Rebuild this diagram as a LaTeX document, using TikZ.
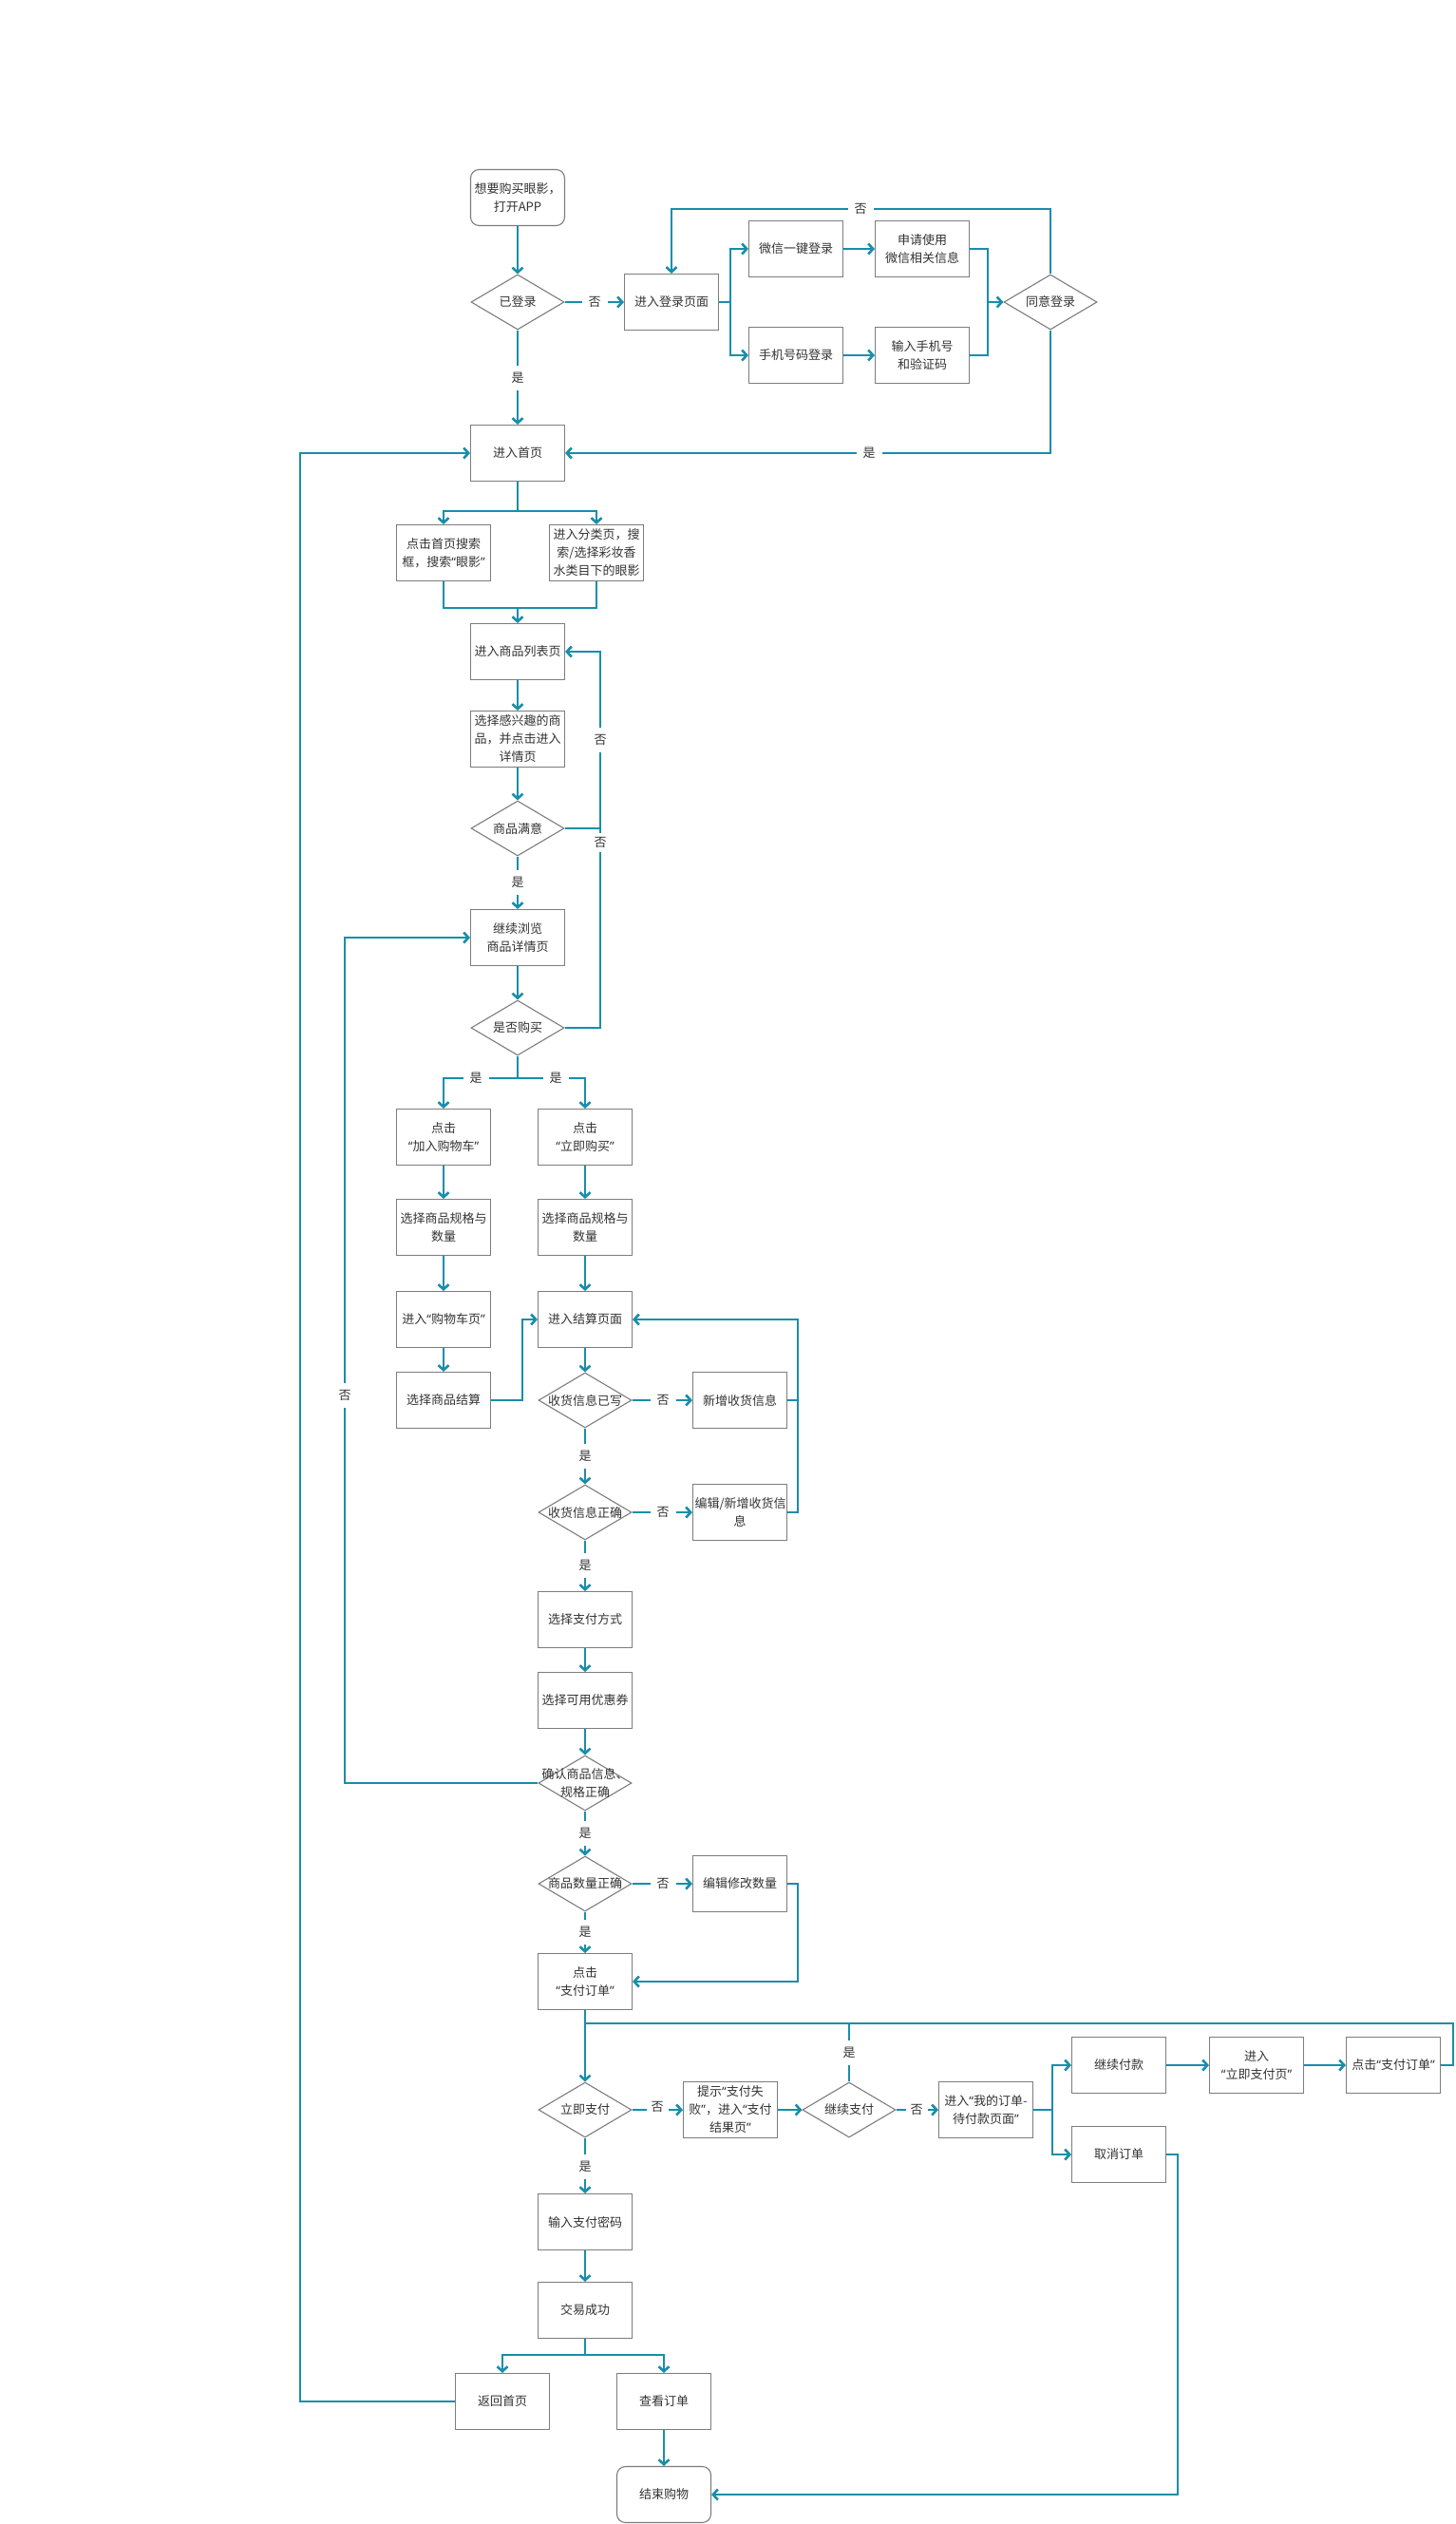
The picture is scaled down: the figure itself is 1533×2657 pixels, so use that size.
\documentclass[tikz,border=0pt]{standalone}
\usepackage{fontspec}
\setmainfont{Noto Sans CJK SC}
\newfontfamily\qfont{Noto Sans}
\newcommand\qL{{\qfont “}}
\newcommand\qR{{\qfont ”}}
\usetikzlibrary{shapes.geometric,arrows.meta}
\definecolor{flow}{RGB}{24,142,170}
\definecolor{edgegray}{RGB}{125,125,125}
\definecolor{ink}{RGB}{51,51,51}
\begin{document}
\begin{tikzpicture}[x=1pt,y=-1pt,
 every node/.style={font=\fontsize{13}{19}\selectfont, text=ink},
 box/.style={draw=edgegray, line width=1.1pt, fill=white, text width=95pt, minimum height=59pt, align=center, inner xsep=2pt, inner ysep=1pt},
 rbox/.style={box, rounded corners=9pt},
 dia/.style={diamond, draw=edgegray, line width=1.1pt, minimum width=98pt, minimum height=58pt, inner sep=0pt},
 dtext/.style={align=center, inner sep=0pt},
 flowline/.style={draw=flow, line width=2.6pt},
 arr/.style={flowline, -{Straight Barb[length=5pt,width=11pt]}},
 lab/.style={fill=white, inner sep=7pt},
]
\useasboundingbox (0,0) rectangle (1533,2657);
\fill[white] (0,0) rectangle (1533,2657);

% ---------- nodes ----------
\node[rbox] (start) at (545,208) {想要购买眼影，\\打开APP};
\node[dia] (dlogin) at (545,318) {};
\node[dtext] (dlogint) at (dlogin) {已登录};
\node[box] (loginpage) at (707,318) {进入登录页面};
\node[box] (wx) at (838,262) {微信一键登录};
\node[box] (wxinfo) at (971,262) {申请使用\\微信相关信息};
\node[box] (phone) at (838,374) {手机号码登录};
\node[box] (phoneinfo) at (971,374) {输入手机号\\和验证码};
\node[dia] (dagree) at (1106,318) {};
\node[dtext] (dagreet) at (dagree) {同意登录};
\node[box] (home) at (545,477) {进入首页};
\node[box] (search) at (467,582) {点击首页搜索\\框，搜索\qL 眼影\qR};
\node[box] (cat) at (628,582) {进入分类页，搜\\索/选择彩妆香\\水类目下的眼影};
\node[box] (list) at (545,686) {进入商品列表页};
\node[box] (pick) at (545,778) {选择感兴趣的商\\品，并点击进入\\详情页};
\node[dia] (dok) at (545,872) {};
\node[dtext] (dokt) at (dok) {商品满意};
\node[box] (detail) at (545,987) {继续浏览\\商品详情页};
\node[dia] (dbuy) at (545,1082) {};
\node[dtext] (dbuyt) at (dbuy) {是否购买};
\node[box] (cart) at (467,1197) {点击\\\qL 加入购物车\qR};
\node[box] (now) at (616,1197) {点击\\\qL 立即购买\qR};
\node[box] (specA) at (467,1292) {选择商品规格与\\数量};
\node[box] (specB) at (616,1292) {选择商品规格与\\数量};
\node[box] (cartpage) at (467,1389) {进入\qL 购物车页\qR};
\node[box] (settle) at (616,1389) {进入结算页面};
\node[box] (cartsettle) at (467,1474) {选择商品结算};
\node[dia] (daddr) at (616,1474) {};
\node[dtext] (daddrt) at (daddr) {收货信息已写};
\node[box] (newaddr) at (779,1474) {新增收货信息};
\node[dia] (daddrok) at (616,1592) {};
\node[dtext] (daddrokt) at (daddrok) {收货信息正确};
\node[box] (editaddr) at (779,1592) {编辑/新增收货信\\息};
\node[box] (paymethod) at (616,1705) {选择支付方式};
\node[box] (coupon) at (616,1790) {选择可用优惠券};
\node[dia] (dconfirm) at (616,1877) {};
\node[dtext] (dconfirmt) at (dconfirm) {确认商品信息、\\规格正确};
\node[dia] (dqty) at (616,1983) {};
\node[dtext] (dqtyt) at (dqty) {商品数量正确};
\node[box] (editqty) at (779,1983) {编辑修改数量};
\node[box] (payorder) at (616,2086) {点击\\\qL 支付订单\qR};
\node[dia] (dpaynow) at (616,2221) {};
\node[dtext] (dpaynowt) at (dpaynow) {立即支付};
\node[box] (fail) at (769,2221) {提示\qL 支付失\\败\qR，进入\qL 支付\\结果页\qR};
\node[dia] (dcont) at (894,2221) {};
\node[dtext] (dcontt) at (dcont) {继续支付};
\node[box] (myorder) at (1038,2221) {进入\qL 我的订单-\\待付款页面\qR};
\node[box] (contpay) at (1178,2174) {继续付款};
\node[box] (cancel) at (1178,2268) {取消订单};
\node[box] (paypage) at (1323,2174) {进入\\\qL 立即支付页\qR};
\node[box] (clickpay) at (1467,2174) {点击\qL 支付订单\qR};
\node[box] (pwd) at (616,2339) {输入支付密码};
\node[box] (success) at (616,2432) {交易成功};
\node[box] (back) at (529,2528) {返回首页};
\node[box] (vieworder) at (699,2528) {查看订单};
\node[rbox] (finish) at (699,2626) {结束购物};

% ---------- connectors ----------
\draw[arr] (start) -- (dlogin);
\draw[arr] (dlogin) -- (loginpage);
\draw[arr] (dlogin) -- (home);
\coordinate (j1) at (769,318);
\draw[flowline] (loginpage.east) -- (j1);
\draw[arr] (j1) |- (wx.west);
\draw[arr] (j1) |- (phone.west);
\draw[arr] (wx) -- (wxinfo);
\draw[arr] (phone) -- (phoneinfo);
\coordinate (j2) at (1040,318);
\draw[flowline] (wxinfo.east) -| (j2);
\draw[flowline] (phoneinfo.east) -| (j2);
\draw[arr] (j2) -- (dagree.west);
\coordinate (j3) at (1106,220);
\draw[arr] (dagree.north) -- (j3) -| (loginpage.north);
\coordinate (j4) at (1106,477);
\draw[arr] (dagree.south) -- (j4) -- (home.east);

\coordinate (j5) at (545,538);
\draw[flowline] (home.south) -- (j5);
\draw[arr] (j5) -| (search.north);
\draw[arr] (j5) -| (cat.north);
\coordinate (j6) at (545,640);
\draw[flowline] (search.south) |- (j6);
\draw[flowline] (cat.south) |- (j6);
\draw[arr] (j6) -- (list.north);
\draw[arr] (list) -- (pick);
\draw[arr] (pick) -- (dok);
\coordinate (j7) at (632,872);
\draw[arr] (dok.east) -- (j7) |- (list.east);
\draw[arr] (dok) -- (detail);
\draw[arr] (detail) -- (dbuy);
\draw[flowline] (dbuy.east) -| (j7);

\coordinate (j8) at (545,1135);
\draw[flowline] (dbuy.south) -- (j8);
\draw[arr] (j8) -| (cart.north);
\draw[arr] (j8) -| (now.north);
\draw[arr] (cart) -- (specA);
\draw[arr] (specA) -- (cartpage);
\draw[arr] (cartpage) -- (cartsettle);
\draw[arr] (now) -- (specB);
\draw[arr] (specB) -- (settle);
\coordinate (j9) at (550,1474);
\draw[arr] (cartsettle.east) -- (j9) |- (settle.west);
\draw[arr] (settle) -- (daddr);
\draw[arr] (daddr) -- (newaddr);
\coordinate (j10) at (840,1474);
\draw[arr] (newaddr.east) -- (j10) |- (settle.east);
\draw[arr] (daddr) -- (daddrok);
\draw[arr] (daddrok) -- (editaddr);
\draw[flowline] (editaddr.east) -| (j10);
\draw[arr] (daddrok) -- (paymethod);
\draw[arr] (paymethod) -- (coupon);
\draw[arr] (coupon) -- (dconfirm);
\coordinate (j11) at (363,1877);
\draw[arr] (dconfirm.west) -- (j11) |- (detail.west);
\draw[arr] (dconfirm) -- (dqty);
\draw[arr] (dqty) -- (editqty);
\coordinate (j12) at (840,1983);
\draw[arr] (editqty.east) -- (j12) |- (payorder.east);
\draw[arr] (dqty) -- (payorder);

\draw[arr] (payorder) -- (dpaynow);
\coordinate (j13) at (616,2130);
\coordinate (j14) at (1530,2174);
\draw[flowline] (clickpay.east) -- (j14) |- (j13);
\draw[flowline] (dcont.north) -- (dcont.north |- j13);
\draw[arr] (dpaynow) -- (fail);
\draw[arr] (fail) -- (dcont);
\draw[arr] (dcont) -- (myorder);
\coordinate (j15) at (1108,2221);
\draw[flowline] (myorder.east) -- (j15);
\draw[arr] (j15) |- (contpay.west);
\draw[arr] (j15) |- (cancel.west);
\draw[arr] (contpay) -- (paypage);
\draw[arr] (paypage) -- (clickpay);
\coordinate (j16) at (1240,2268);
\draw[arr] (cancel.east) -- (j16) |- (finish.east);
\draw[arr] (dpaynow) -- (pwd);
\draw[arr] (pwd) -- (success);
\coordinate (j17) at (616,2479);
\draw[flowline] (success.south) -- (j17);
\draw[arr] (j17) -| (back.north);
\draw[arr] (j17) -| (vieworder.north);
\coordinate (j18) at (316,2528);
\draw[arr] (back.west) -- (j18) |- (home.west);
\draw[arr] (vieworder) -- (finish);

% ---------- labels ----------
\node[lab] (l1) at (626,318) {否};
\node[lab] (l2) at (545,398) {是};
\node[lab] (l3) at (906,220) {否};
\node[lab] (l4) at (915,477) {是};
\node[lab] (l5) at (632,779) {否};
\node[lab, inner ysep=4pt] (l6) at (632,887) {否};
\node[lab] (l7) at (545,929) {是};
\node[lab] (l8) at (501,1135) {是};
\node[lab] (l9) at (585,1135) {是};
\node[lab] (l10) at (698,1474) {否};
\node[lab] (l11) at (616,1533) {是};
\node[lab] (l12) at (698,1592) {否};
\node[lab] (l13) at (616,1648) {是};
\node[lab] (l14) at (363,1469) {否};
\node[lab] (l15) at (616,1930) {是};
\node[lab] (l16) at (698,1983) {否};
\node[lab] (l17) at (616,2034) {是};
\node[lab, inner xsep=5pt] (l18) at (692,2218) {否};
\node[lab] (l19) at (894,2161) {是};
\node[lab, inner xsep=5pt] (l20) at (965,2221) {否};
\node[lab] (l21) at (616,2281) {是};
\end{tikzpicture}
\end{document}
